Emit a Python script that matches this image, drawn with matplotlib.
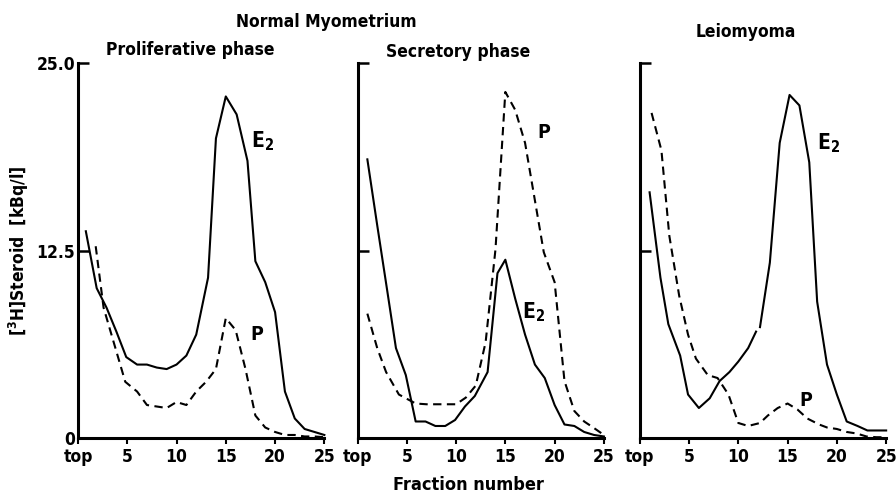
import matplotlib
matplotlib.use("Agg")
import matplotlib.pyplot as plt
import numpy as np

plt.rcParams['font.family'] = ['DejaVu Sans']
plt.rcParams['font.weight'] = 'bold'
plt.rcParams['font.stretch'] = 'condensed'
plt.rcParams['mathtext.default'] = 'bf'

# --------------------------------------------------
# Datos (fraccion, kBq/l)
# --------------------------------------------------
# Proliferative phase
prol_e2_x = [0.8, 1.9, 2.9, 3.9, 4.9, 6, 7, 8, 9, 10, 11, 12, 13.2, 14, 15, 16.1, 17.2, 18, 19, 20, 21, 22, 23, 24, 25]
prol_e2_y = [13.8, 10.0, 8.7, 7.1, 5.4, 4.9, 4.9, 4.7, 4.6, 4.9, 5.5, 6.9, 10.7, 20.0, 22.8, 21.6, 18.5, 11.8, 10.4, 8.4, 3.1, 1.3, 0.6, 0.4, 0.2]
prol_p_x = [1.8, 2.6, 3.8, 4.8, 6, 7, 8, 9, 10, 11, 12, 13, 14, 15, 16, 17, 18, 19, 20, 21, 22, 23, 24, 25]
prol_p_y = [12.8, 8.7, 6.0, 3.75, 3.1, 2.2, 2.1, 2.0, 2.4, 2.2, 3.1, 3.75, 4.6, 8.0, 7.2, 4.6, 1.5, 0.7, 0.4, 0.2, 0.2, 0.1, 0.1, 0.05]

# Secretory phase
secr_e2_x = [1, 2, 3, 3.9, 4.9, 5.9, 6.9, 7.9, 8.9, 9.9, 10.9, 11.9, 13.2, 14.2, 15, 16, 17, 18, 19, 20, 21, 22, 23, 24, 25]
secr_e2_y = [18.6, 14.2, 9.9, 6.0, 4.2, 1.1, 1.1, 0.8, 0.8, 1.2, 2.1, 2.8, 4.4, 11.0, 11.9, 9.3, 6.9, 4.9, 4.0, 2.2, 0.9, 0.8, 0.4, 0.2, 0.1]
secr_p_x = [1, 2, 2.9, 4.2, 5.9, 7, 8, 9, 10, 11, 12, 13, 14, 15, 16, 17, 18.9, 20, 21, 22, 23, 24, 25]
secr_p_y = [8.3, 6.0, 4.4, 2.9, 2.3, 2.25, 2.25, 2.25, 2.25, 2.7, 3.5, 6.4, 12.6, 23.1, 21.9, 19.7, 12.4, 10.4, 3.8, 1.8, 1.1, 0.66, 0.2]

# Leiomyoma (la linea E2 tiene un corte cerca de la fraccion 12)
leio_e2_x = [1, 2.1, 2.9, 4.1, 4.9, 6, 7.1, 8.1, 9.1, 10, 11, 11.8, 12.0, 12.2, 13.2, 14.2, 15.2, 16.2, 17.2, 18, 19, 20, 21, 22.1, 23.1, 25]
leio_e2_y = [16.4, 10.7, 7.6, 5.5, 2.9, 2.0, 2.65, 3.8, 4.4, 5.1, 6.0, 7.1, np.nan, 7.4, 11.7, 19.7, 22.9, 22.2, 18.4, 9.1, 4.9, 2.9, 1.1, 0.8, 0.5, 0.5]
leio_p_x = [1.2, 2.2, 3, 4, 4.9, 5.7, 6.9, 7.9, 9, 10, 11, 12.2, 13, 14, 15, 16, 17, 18.2, 19, 20, 21, 22, 23, 24, 25]
leio_p_y = [21.7, 19.2, 13.5, 9.5, 6.9, 5.3, 4.2, 4.0, 2.9, 1.0, 0.8, 1.0, 1.5, 2.0, 2.3, 1.9, 1.3, 0.9, 0.7, 0.6, 0.4, 0.3, 0.1, 0.05, 0.05]

xticks = [0, 5, 10, 15, 20, 25]
xticklabels = ["top", "5", "10", "15", "20", "25"]
yticks = [0, 12.5, 25]
yticklabels = ["0", "12.5", "25.0"]

paneles = [
    ("Proliferative phase", prol_e2_x, prol_e2_y, prol_p_x, prol_p_y, (18.7, 19.8), (18.1, 6.9)),
    ("Secretory phase", secr_e2_x, secr_e2_y, secr_p_x, secr_p_y, (17.9, 8.4), (18.9, 20.4)),
    ("Leiomyoma", leio_e2_x, leio_e2_y, leio_p_x, leio_p_y, (19.2, 19.7), (16.9, 2.5)),
]
lefts = [0.087, 0.399, 0.714]

fig = plt.figure(figsize=(8.96, 4.96), dpi=100)

for i, (titulo, ex, ey, px, py, e2_pos, p_pos) in enumerate(paneles):
    ax = fig.add_axes([lefts[i], 0.117, 0.275, 0.755])
    ax.plot(ex, ey, color="black", lw=1.5, clip_on=False)
    ax.plot(px, py, color="black", lw=1.5, dashes=(4, 2.6), clip_on=False)
    ax.set_xlim(0, 25)
    ax.set_ylim(0, 25)
    for s in ["top", "right"]:
        ax.spines[s].set_visible(False)
    for s in ["left", "bottom"]:
        ax.spines[s].set_linewidth(2.2)
    ax.set_xticks(xticks)
    ax.set_xticklabels(xticklabels, fontsize=12.5)
    ax.set_yticks(yticks)
    if i == 0:
        ax.set_yticklabels(yticklabels, fontsize=12.5)
        ax.set_ylabel("[$^3$H]Steroid  [kBq/l]", fontsize=12.5, fontweight="bold")
        ax.yaxis.set_label_coords(-0.19, 0.5)
    else:
        ax.set_yticklabels([])
    ax.tick_params(axis="y", direction="in", length=8, width=1.8, pad=2)
    ax.tick_params(axis="x", direction="out", length=4, width=1.5, pad=3)
    ax.text(e2_pos[0], e2_pos[1], "E$_2$", fontsize=15, ha="center", va="center")
    ax.text(p_pos[0], p_pos[1], "P", fontsize=14, ha="center", va="center")

fig.text(326 / 896, 1 - 22 / 496, "Normal Myometrium", ha="center", va="center", fontsize=12.5)
fig.text(190 / 896, 1 - 50 / 496, "Proliferative phase", ha="center", va="center", fontsize=12.5)
fig.text(458 / 896, 1 - 52 / 496, "Secretory phase", ha="center", va="center", fontsize=12.5)
fig.text(746 / 896, 1 - 32 / 496, "Leiomyoma", ha="center", va="center", fontsize=12.5)
fig.text(468 / 896, 1 - 485 / 496, "Fraction number", ha="center", va="center", fontsize=13)

fig.savefig("out.png", dpi=100, facecolor="white")
